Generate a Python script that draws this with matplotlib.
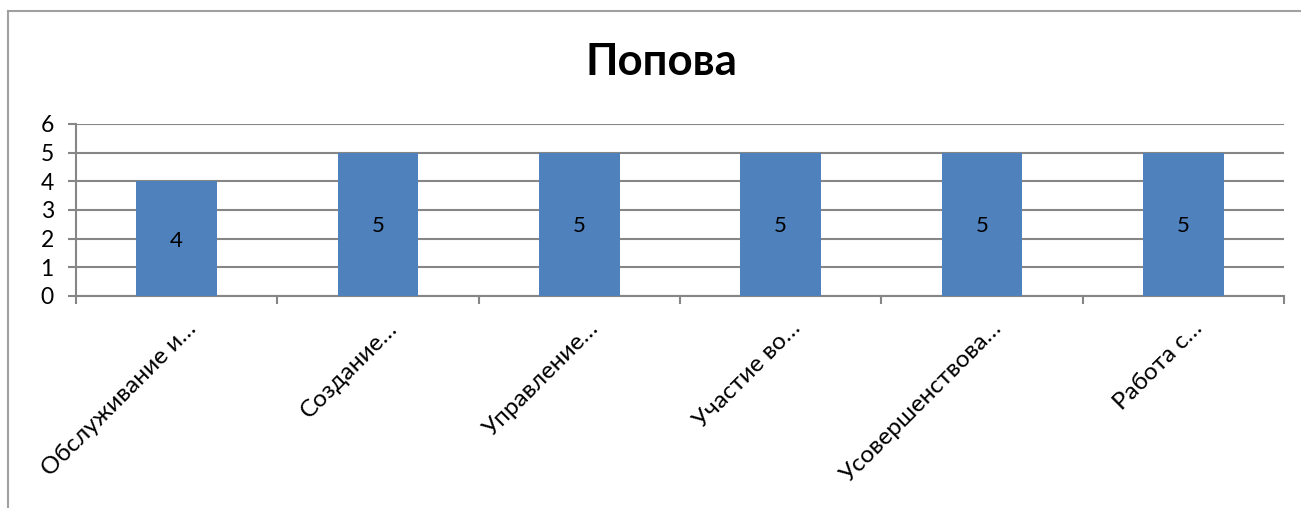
import matplotlib
matplotlib.use("Agg")
import matplotlib.pyplot as plt
from matplotlib.lines import Line2D
from matplotlib.transforms import ScaledTranslation

plt.rcParams['font.family'] = ['Lato', 'DejaVu Sans']

title = "Попова"
categories = ["Обслуживание и…", "Создание…", "Управление…",
              "Участие во…", "Усовершенствова…", "Работа с…"]
values = [4, 5, 5, 5, 5, 5]
y_ticks = [0, 1, 2, 3, 4, 5, 6]

bar_color = "#4F81BD"
grid_color = "#868686"

fig = plt.figure(figsize=(13.01, 5.08), dpi=100)
ax = fig.add_axes([76 / 1301, 1 - 296 / 508, (1284 - 76) / 1301, (296 - 124) / 508])

x = list(range(len(categories)))
ax.bar(x, values, width=0.4, color=bar_color, zorder=3)
ax.set_xlim(-0.5, len(categories) - 0.5)
ax.set_ylim(0, 6)

# data labels in the middle of each bar
for xi, v in zip(x, values):
    ax.text(xi, v / 2, str(v), ha='center', va='center_baseline',
            fontsize=16, color='black', zorder=4)

# horizontal gridlines
ax.set_yticks(y_ticks)
ax.yaxis.grid(True, color=grid_color, linewidth=1.5, zorder=0)
ax.xaxis.grid(False)
ax.tick_params(axis='y', length=6, width=1.5, color=grid_color,
               labelsize=16.5, pad=10)

# category tick marks at boundaries
ax.set_xticks([i - 0.5 for i in range(len(categories) + 1)])
ax.set_xticklabels([])
ax.tick_params(axis='x', length=6, width=1.5, color=grid_color)

for side in ['top', 'right']:
    ax.spines[side].set_visible(False)
for side in ['left', 'bottom']:
    ax.spines[side].set_color(grid_color)
    ax.spines[side].set_linewidth(1.5)

# rotated category labels
trans = ax.get_xaxis_transform() + ScaledTranslation(16 / 100, -29 / 100, fig.dpi_scale_trans)
for xi, name in zip(x, categories):
    ax.text(xi, 0, name, rotation=45, rotation_mode='anchor',
            ha='right', va='center', fontsize=17.5, transform=trans,
            clip_on=False)

fig.text(661 / 1301, 1 - 62 / 508, title, ha='center', va='center',
         fontsize=31.5, fontweight='bold')

# chart frame
fig.add_artist(Line2D([8 / 1301, 8 / 1301], [0, 1 - 11 / 508],
                      transform=fig.transFigure, color='#A0A0A0', linewidth=1.5))
fig.add_artist(Line2D([8 / 1301, 1], [1 - 11 / 508, 1 - 11 / 508],
                      transform=fig.transFigure, color='#A0A0A0', linewidth=1.5))

fig.savefig("out.png", dpi=100)
